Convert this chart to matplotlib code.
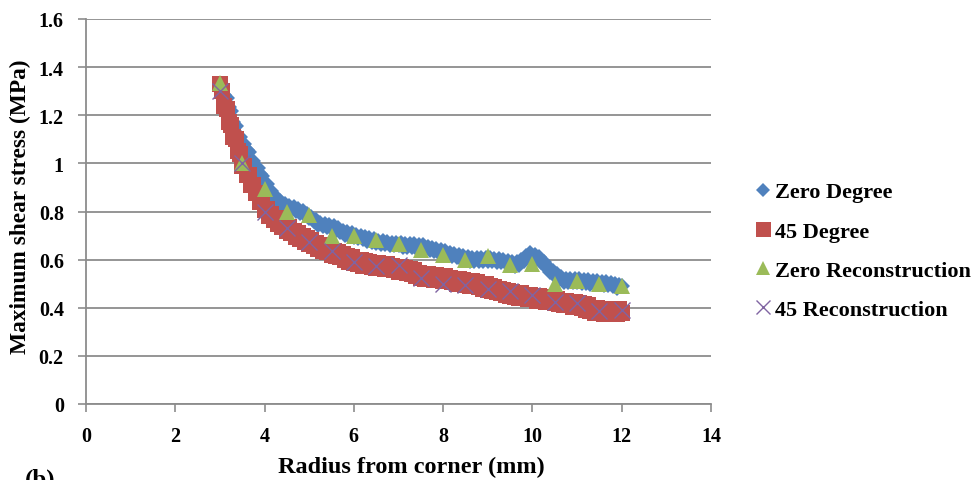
import matplotlib
matplotlib.use("Agg")
import matplotlib.pyplot as plt

# Radius positions (mm) of the dense FE samples
radius_dense = [3.00, 3.05, 3.10, 3.15, 3.20, 3.25, 3.30, 3.35, 3.40, 3.45,
                3.50, 3.55, 3.60, 3.65, 3.70, 3.75, 3.80, 3.85, 3.90, 3.95,
                4.00, 4.05, 4.10, 4.15, 4.20, 4.25, 4.30, 4.35, 4.40, 4.45,
                4.50, 4.55, 4.60, 4.65, 4.70, 4.75, 4.80, 4.85, 4.90, 4.95,
                5.00, 5.05, 5.10, 5.15, 5.20, 5.25, 5.30, 5.35, 5.40, 5.45,
                5.50, 5.55, 5.60, 5.65, 5.70, 5.75, 5.80, 5.85, 5.90, 5.95,
                6.00, 6.05, 6.10, 6.15, 6.20, 6.25, 6.30, 6.35, 6.40, 6.45,
                6.50, 6.55, 6.60, 6.65, 6.70, 6.75, 6.80, 6.85, 6.90, 6.95,
                7.00, 7.05, 7.10, 7.15, 7.20, 7.25, 7.30, 7.35, 7.40, 7.45,
                7.50, 7.55, 7.60, 7.65, 7.70, 7.75, 7.80, 7.85, 7.90, 7.95,
                8.00, 8.05, 8.10, 8.15, 8.20, 8.25, 8.30, 8.35, 8.40, 8.45,
                8.50, 8.55, 8.60, 8.65, 8.70, 8.75, 8.80, 8.85, 8.90, 8.95,
                9.00, 9.05, 9.10, 9.15, 9.20, 9.25, 9.30, 9.35, 9.40, 9.45,
                9.50, 9.55, 9.60, 9.65, 9.70, 9.75, 9.80, 9.85, 9.90, 9.95,
                10.00, 10.05, 10.10, 10.15, 10.20, 10.25, 10.30, 10.35, 10.40, 10.45,
                10.50, 10.55, 10.60, 10.65, 10.70, 10.75, 10.80, 10.85, 10.90, 10.95,
                11.00, 11.05, 11.10, 11.15, 11.20, 11.25, 11.30, 11.35, 11.40, 11.45,
                11.50, 11.55, 11.60, 11.65, 11.70, 11.75, 11.80, 11.85, 11.90, 11.95,
                12.00]

# Maximum shear stress (MPa), zero degree orientation
zero_degree = [1.330, 1.316, 1.284, 1.271, 1.234, 1.216, 1.174, 1.156, 1.114, 1.111,
               1.084, 1.081, 1.054, 1.046, 1.014, 1.011, 0.984, 0.981, 0.954, 0.949,
               0.919, 0.916, 0.889, 0.886, 0.859, 0.861, 0.839, 0.844, 0.824, 0.831,
               0.814, 0.824, 0.809, 0.819, 0.804, 0.811, 0.794, 0.801, 0.784, 0.791,
               0.774, 0.779, 0.759, 0.764, 0.744, 0.754, 0.739, 0.749, 0.734, 0.744,
               0.729, 0.739, 0.724, 0.731, 0.714, 0.721, 0.704, 0.714, 0.699, 0.709,
               0.694, 0.704, 0.689, 0.699, 0.684, 0.694, 0.679, 0.689, 0.674, 0.684,
               0.669, 0.679, 0.664, 0.676, 0.664, 0.674, 0.659, 0.671, 0.659, 0.671,
               0.659, 0.669, 0.654, 0.666, 0.654, 0.666, 0.654, 0.664, 0.649, 0.661,
               0.649, 0.659, 0.644, 0.654, 0.639, 0.649, 0.634, 0.644, 0.629, 0.639,
               0.624, 0.634, 0.619, 0.629, 0.614, 0.624, 0.609, 0.619, 0.604, 0.614,
               0.599, 0.609, 0.594, 0.606, 0.594, 0.606, 0.594, 0.606, 0.594, 0.606,
               0.594, 0.606, 0.594, 0.604, 0.589, 0.601, 0.589, 0.599, 0.584, 0.594,
               0.579, 0.589, 0.574, 0.589, 0.579, 0.599, 0.594, 0.614, 0.609, 0.626,
               0.614, 0.621, 0.604, 0.609, 0.589, 0.591, 0.569, 0.571, 0.549, 0.554,
               0.534, 0.539, 0.519, 0.526, 0.509, 0.521, 0.509, 0.521, 0.509, 0.521,
               0.509, 0.519, 0.504, 0.516, 0.504, 0.514, 0.499, 0.511, 0.499, 0.511,
               0.499, 0.509, 0.494, 0.506, 0.494, 0.504, 0.489, 0.499, 0.484, 0.496,
               0.490]

# Maximum shear stress (MPa), 45 degree orientation
deg45 = [1.330, 1.300, 1.240, 1.225, 1.170, 1.160, 1.110, 1.100, 1.050, 1.040,
         0.990, 0.990, 0.950, 0.950, 0.910, 0.910, 0.875, 0.875, 0.840, 0.840,
         0.805, 0.810, 0.780, 0.790, 0.765, 0.775, 0.750, 0.760, 0.735, 0.750,
         0.720, 0.735, 0.710, 0.720, 0.695, 0.710, 0.685, 0.700, 0.675, 0.690,
         0.665, 0.680, 0.655, 0.670, 0.645, 0.660, 0.635, 0.650, 0.630, 0.645,
         0.620, 0.635, 0.615, 0.630, 0.610, 0.625, 0.600, 0.615, 0.590, 0.610,
         0.585, 0.600, 0.580, 0.600, 0.575, 0.595, 0.575, 0.590, 0.570, 0.585,
         0.565, 0.585, 0.565, 0.580, 0.560, 0.580, 0.560, 0.575, 0.555, 0.570,
         0.550, 0.570, 0.550, 0.565, 0.545, 0.560, 0.540, 0.555, 0.530, 0.545,
         0.525, 0.540, 0.520, 0.540, 0.520, 0.535, 0.515, 0.535, 0.515, 0.530,
         0.510, 0.530, 0.510, 0.525, 0.505, 0.520, 0.500, 0.520, 0.500, 0.515,
         0.495, 0.510, 0.490, 0.510, 0.490, 0.505, 0.485, 0.500, 0.480, 0.500,
         0.475, 0.490, 0.470, 0.485, 0.465, 0.480, 0.460, 0.475, 0.455, 0.470,
         0.450, 0.465, 0.445, 0.460, 0.440, 0.460, 0.440, 0.455, 0.435, 0.455,
         0.435, 0.450, 0.430, 0.450, 0.430, 0.445, 0.425, 0.445, 0.425, 0.440,
         0.420, 0.435, 0.415, 0.430, 0.410, 0.430, 0.410, 0.425, 0.405, 0.425,
         0.405, 0.420, 0.400, 0.415, 0.390, 0.410, 0.385, 0.400, 0.380, 0.400,
         0.380, 0.395, 0.375, 0.395, 0.375, 0.395, 0.375, 0.395, 0.375, 0.395,
         0.380]

# Reconstruction sample positions (mm)
radius_recon = [3.0, 3.5, 4.0, 4.5, 5.0, 5.5, 6.0, 6.5, 7.0, 7.5,
                8.0, 8.5, 9.0, 9.5, 10.0, 10.5, 11.0, 11.5, 12.0]

zero_recon = [1.335, 1.00, 0.895, 0.80, 0.787, 0.70, 0.70, 0.68, 0.667, 0.642,
              0.62, 0.60, 0.613, 0.577, 0.58, 0.497, 0.51, 0.497, 0.49]

deg45_recon = [1.30, 1.00, 0.80, 0.73, 0.675, 0.634, 0.59, 0.572, 0.577, 0.522,
               0.50, 0.494, 0.48, 0.468, 0.452, 0.423, 0.419, 0.385, 0.39]

series_labels = ["Zero Degree", "45 Degree", "Zero Reconstruction", "45 Reconstruction"]
x_ticks = [0, 2, 4, 6, 8, 10, 12, 14]
y_ticks = [0, 0.2, 0.4, 0.6, 0.8, 1.0, 1.2, 1.4, 1.6]
y_tick_labels = ["0", "0.2", "0.4", "0.6", "0.8", "1", "1.2", "1.4", "1.6"]

plt.rcParams["font.family"] = ["Liberation Serif", "DejaVu Serif"]
plt.rcParams["font.weight"] = "bold"

fig = plt.figure(figsize=(9.8, 4.81), dpi=100)
W, H = 980, 481
ax = fig.add_axes([86 / W, 1 - 405 / H, (711 - 86) / W, (405 - 20) / H])

grid_col = "#8c8c8c"
ax.plot(radius_dense, zero_degree, linestyle="none", marker="D", ms=8.2,
        color="#4F81BD", mec="#4F81BD", mew=0.0, label=series_labels[0], zorder=3)
ax.plot(radius_dense, deg45, linestyle="none", marker="s", ms=12,
        color="#C0504D", mec="#C0504D", mew=0.0, label=series_labels[1], zorder=4)
ax.plot(radius_recon, zero_recon, linestyle="none", marker="^", ms=11.5,
        color="#9BBB59", mec="#9BBB59", mew=0.0, label=series_labels[2], zorder=5)
ax.plot(radius_recon, deg45_recon, linestyle="none", marker="x", ms=11,
        color="#8064A2", mew=1.0, label=series_labels[3], zorder=6)

ax.set_xlim(0, 14)
ax.set_ylim(0, 1.6)
ax.set_xticks(x_ticks)
ax.set_yticks(y_ticks)
ax.set_yticklabels(y_tick_labels)
ax.tick_params(axis="both", labelsize=14.5, colors=grid_col, labelcolor="black",
               length=6, width=1.2, direction="out")
for lbl in ax.get_xticklabels() + ax.get_yticklabels():
    lbl.set_fontweight("bold")
ax.tick_params(axis="y", pad=10)
ax.tick_params(axis="x", pad=10)

ax.grid(axis="y", color=grid_col, linewidth=1.3, zorder=0)
ax.set_axisbelow(True)
for side in ("top", "right"):
    ax.spines[side].set_visible(False)
for side in ("left", "bottom"):
    ax.spines[side].set_color(grid_col)
    ax.spines[side].set_linewidth(1.3)

ax.set_xlabel("Radius from corner (mm)", fontsize=17.5, fontweight="bold", va="center")
ax.xaxis.set_label_coords((411 - 86) / 625, (405 - 467) / 385)
ax.set_ylabel("Maximum shear stress (MPa)", fontsize=16.8, fontweight="bold", va="center")
ax.yaxis.set_label_coords((20 - 86) / 625, (405 - 207) / 385)

leg = fig.legend(loc="upper left", bbox_to_anchor=(743 / W, 1 - 174 / H),
                 frameon=False, fontsize=16, handletextpad=0.05, labelspacing=0.84,
                 handlelength=1.0, borderaxespad=0, markerscale=0.9)
for t in leg.get_texts():
    t.set_fontweight("bold")

fig.text(25 / W, 1 - 469 / H, "(b)", fontsize=18, fontweight="bold", va="top", ha="left")

fig.savefig("out.png", dpi=100)
